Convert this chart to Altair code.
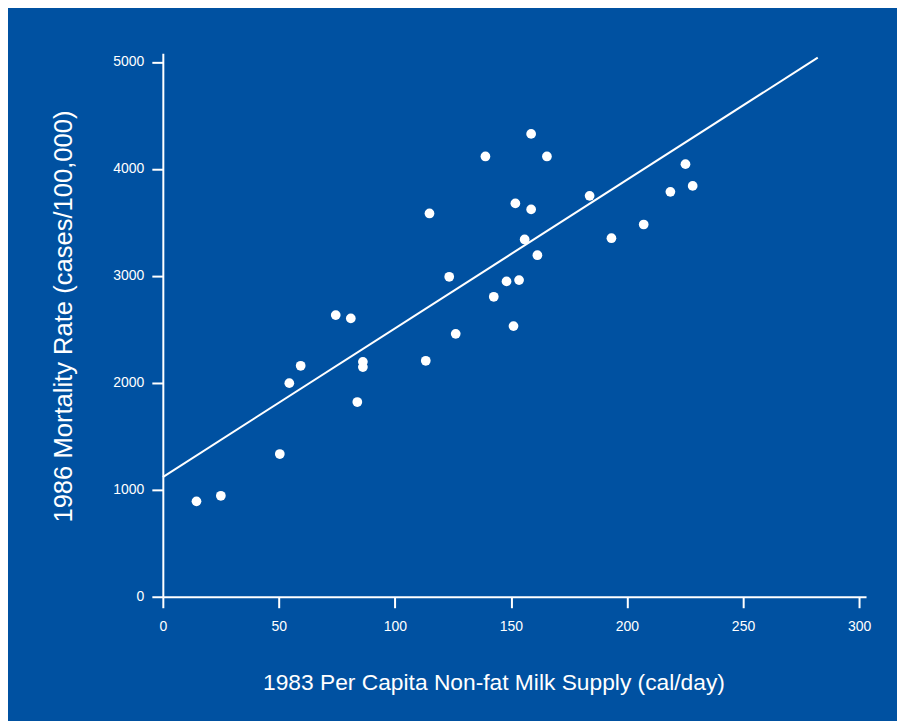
import altair as alt
import pandas as pd

# Scatter data
milk_supply = [14.5, 25.0, 50.4, 54.5, 59.4, 74.5, 81.0, 83.8, 86.2, 86.2,
               113.3, 114.9, 123.4, 126.2, 139.0, 142.6, 148.1, 151.1, 151.9, 153.5,
               155.9, 158.7, 158.7, 161.4, 165.5, 183.9, 193.3, 207.2, 218.7, 225.2,
               228.3]
mortality = [892, 944, 1334, 1997, 2159, 2633, 2602, 1820, 2196, 2147,
             2206, 3583, 2991, 2458, 4116, 2804, 2948, 2530, 3677, 2960,
             3340, 4327, 3621, 3193, 4116, 3748, 3352, 3480, 3785, 4044,
             3841]

# Fitted line endpoints
fit_x = [0, 282.2]
fit_y = [1119, 5040]

x_ticks = [0, 50, 100, 150, 200, 250, 300]
y_ticks = [0, 1000, 2000, 3000, 4000, 5000]

BG = "#0051A1"
FONT = "Liberation Sans"

pts = pd.DataFrame({"x": milk_supply, "y": mortality})
fit = pd.DataFrame({"x": fit_x, "y": fit_y})

x_scale = alt.Scale(domain=[0, 303], nice=False, zero=False)
y_scale = alt.Scale(domain=[0, 5080], nice=False, zero=False)

x_axis = alt.Axis(
    title="1983 Per Capita Non-fat Milk Supply (cal/day)",
    values=x_ticks, format="d", grid=False, labelFlush=False,
    domainColor="white", domainWidth=2, tickColor="white", tickWidth=2, tickSize=11,
    labelColor="white", labelFont=FONT, labelFontSize=14, labelPadding=12,
    titleColor="white", titleFont=FONT, titleFontSize=22.8, titleFontWeight="normal",
    titleX=331, titleY=93, titleAlign="center", titleBaseline="alphabetic",
)
y_axis = alt.Axis(
    title="1986 Mortality Rate (cases/100,000)",
    values=y_ticks, format="d", grid=False, labelFlush=False,
    domainColor="white", domainWidth=2, tickColor="white", tickWidth=2, tickSize=11,
    labelColor="white", labelFont=FONT, labelFontSize=14, labelPadding=8,
    titleColor="white", titleFont=FONT, titleFontSize=25.6, titleFontWeight="normal",
    titleX=-91, titleY=263, titleAngle=-90, titleAlign="center", titleBaseline="alphabetic",
)

points = alt.Chart(pts).mark_circle(color="white", opacity=1, size=95).encode(
    x=alt.X("x:Q", scale=x_scale, axis=x_axis),
    y=alt.Y("y:Q", scale=y_scale, axis=y_axis),
)

line = alt.Chart(fit).mark_line(color="white", strokeWidth=2).encode(
    x=alt.X("x:Q", scale=x_scale),
    y=alt.Y("y:Q", scale=y_scale),
)

chart = alt.layer(line, points).properties(
    width=704,
    height=544,
    autosize=alt.AutoSizeParams(type="none"),
    padding={"left": 155, "top": 45, "right": 31, "bottom": 130},
    background=BG,
).configure_view(stroke=None)

chart.save("out.html", embed_options={"renderer": "svg", "actions": False})
